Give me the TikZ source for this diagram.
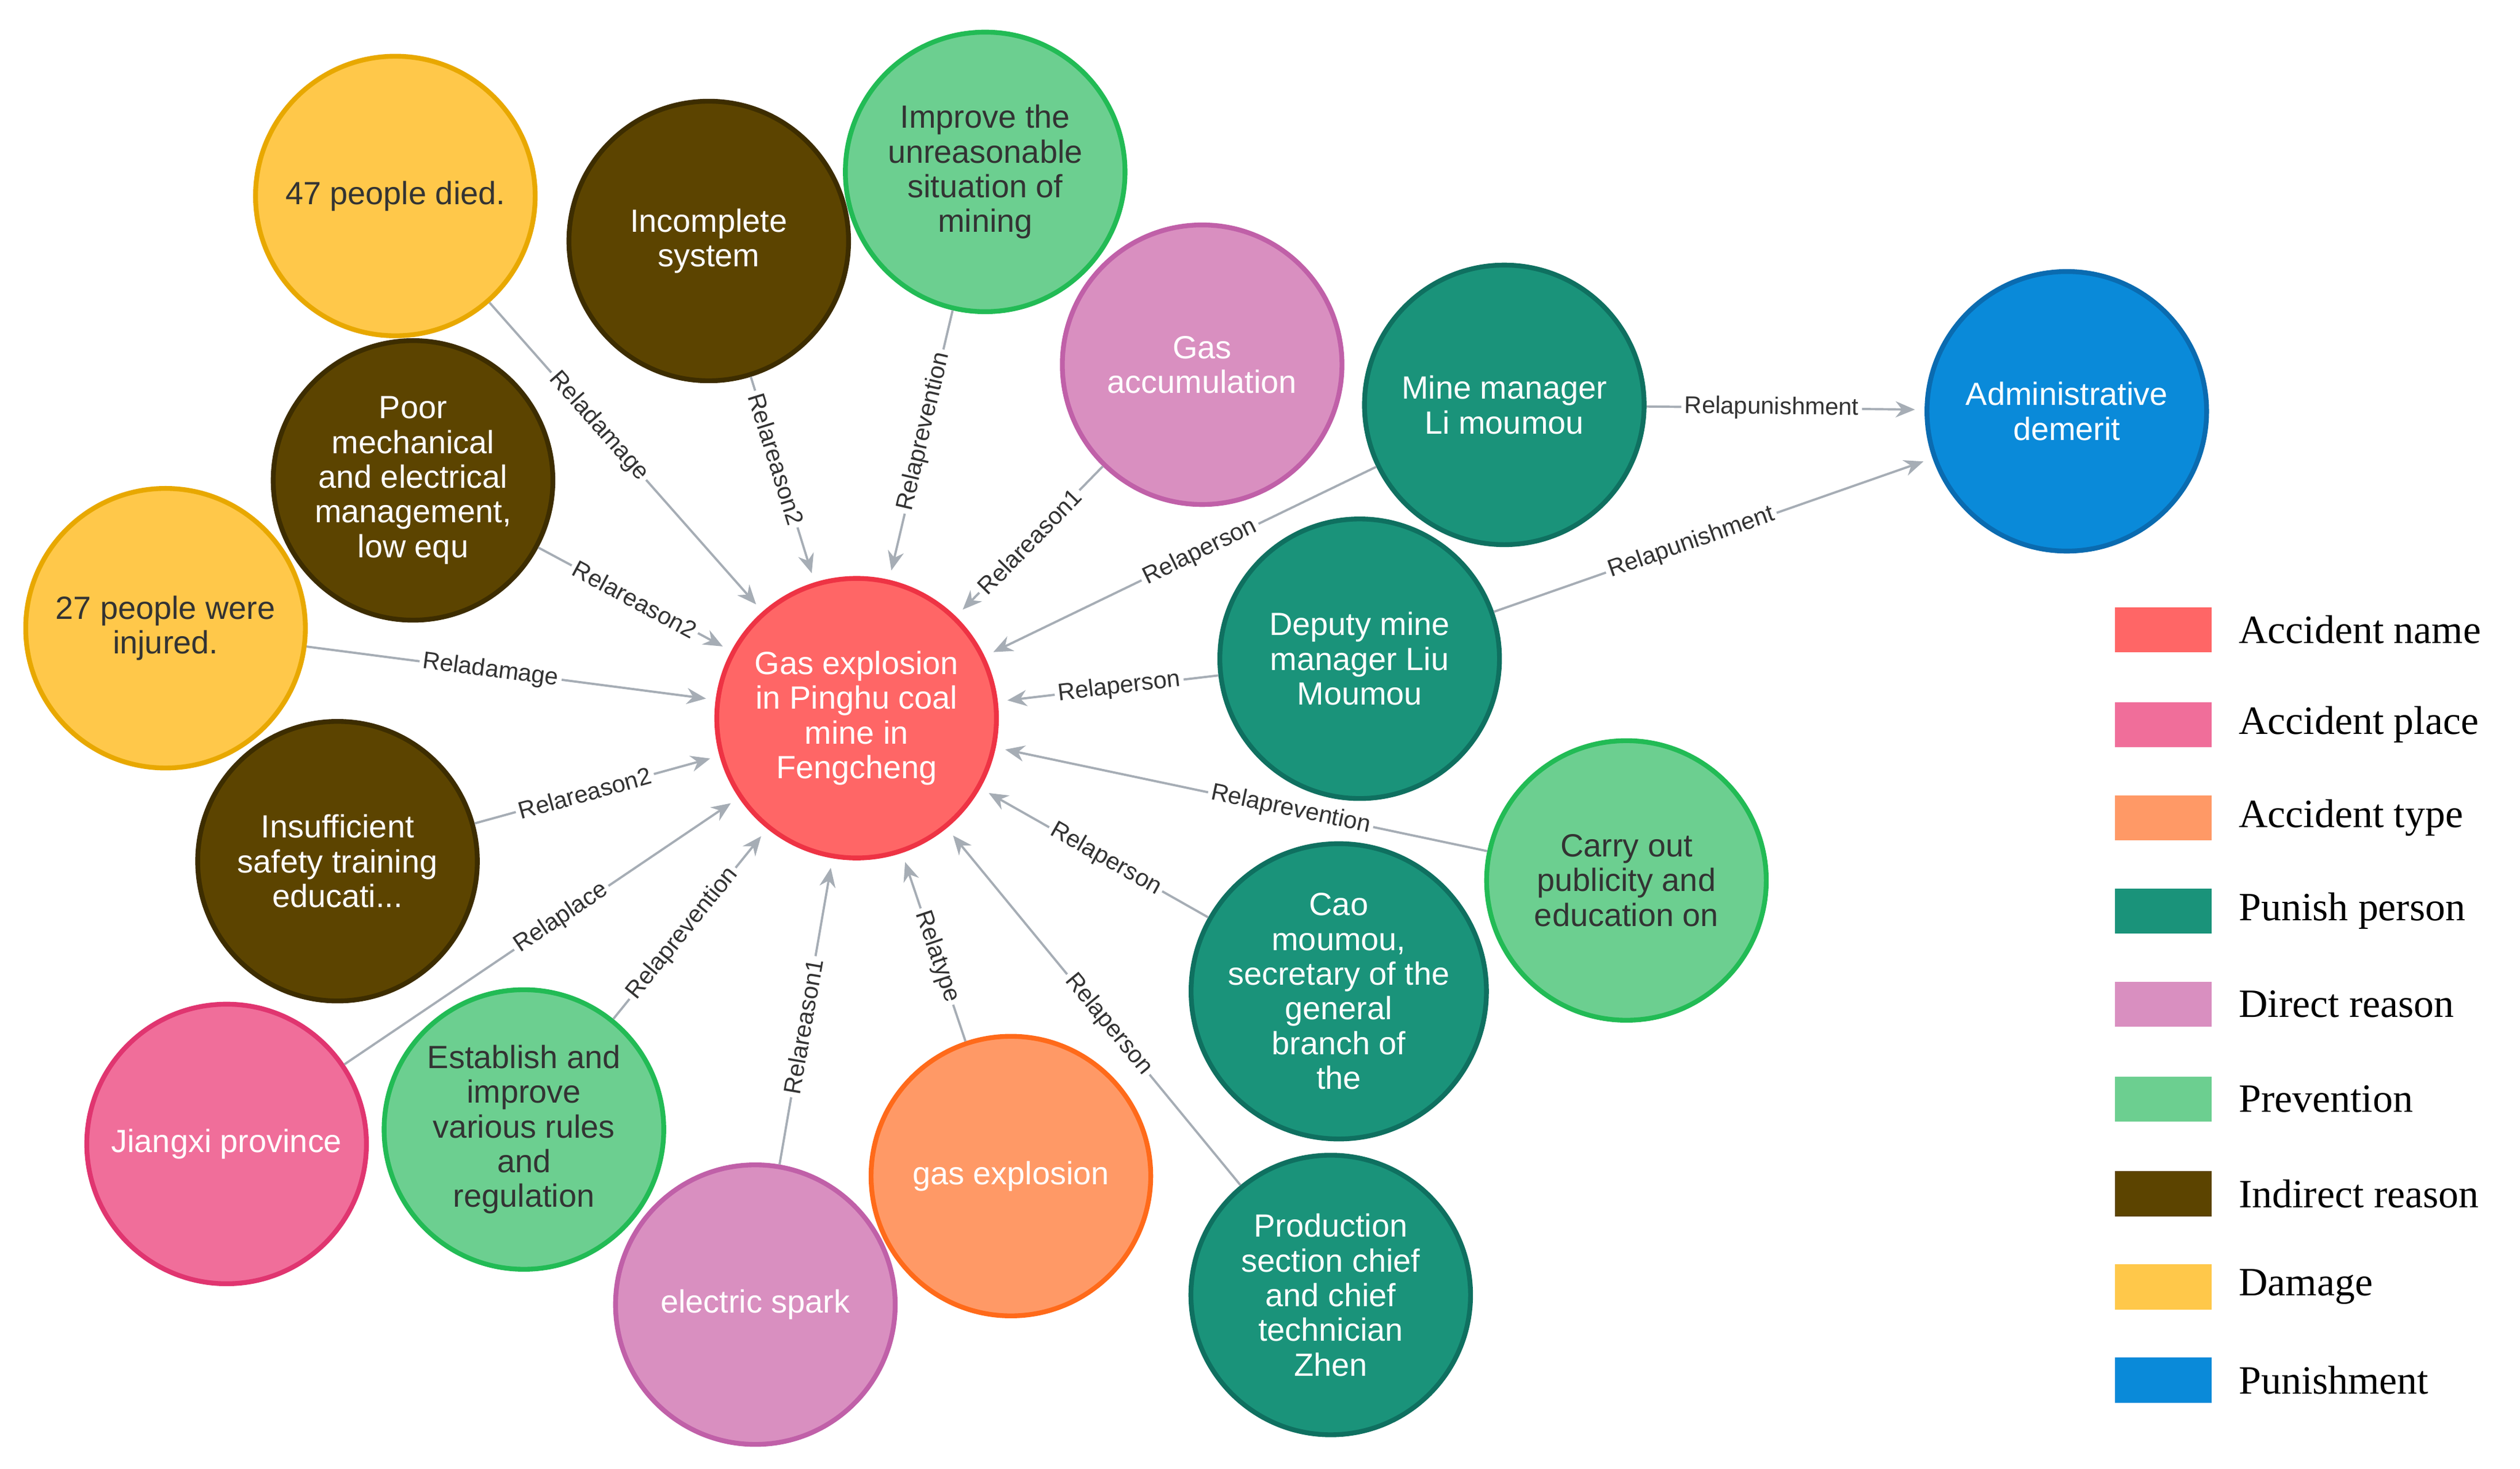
\documentclass[tikz,border=0pt]{standalone}
\usepackage{fontspec}
\setmainfont{Liberation Serif}
\newfontfamily\nodefont{Liberation Sans}
\usetikzlibrary{arrows.meta}
\definecolor{cred}{HTML}{FF6666}\definecolor{bred}{HTML}{EE3344}
\definecolor{cyel}{HTML}{FFC84A}\definecolor{byel}{HTML}{E8A800}
\definecolor{cbro}{HTML}{5C4400}\definecolor{bbro}{HTML}{3D2D00}
\definecolor{cgre}{HTML}{6CCF90}\definecolor{bgre}{HTML}{22BB55}
\definecolor{cpur}{HTML}{D98FC0}\definecolor{bpur}{HTML}{C060A8}
\definecolor{ctea}{HTML}{1A937A}\definecolor{btea}{HTML}{0F7060}
\definecolor{cblu}{HTML}{0A8AD9}\definecolor{bblu}{HTML}{0A6BB0}
\definecolor{cpin}{HTML}{F06E9A}\definecolor{bpin}{HTML}{E03570}
\definecolor{cora}{HTML}{FF9966}\definecolor{bora}{HTML}{FF6A1A}
\definecolor{edge}{HTML}{A6ADB5}\definecolor{dtext}{HTML}{333333}
\tikzset{
 ent/.style={circle,minimum size=87pt,inner sep=0pt,line width=1.5pt,align=center,font=\nodefont\fontsize{10}{10.8}\selectfont},
 red/.style={ent,fill=cred,draw=bred,text=white},
 yel/.style={ent,fill=cyel,draw=byel,text=dtext},
 bro/.style={ent,fill=cbro,draw=bbro,text=white},
 gre/.style={ent,fill=cgre,draw=bgre,text=dtext},
 pur/.style={ent,fill=cpur,draw=bpur,text=white},
 tea/.style={ent,fill=ctea,draw=btea,text=white},
 blu/.style={ent,fill=cblu,draw=bblu,text=white},
 pin/.style={ent,fill=cpin,draw=bpin,text=white},
 ora/.style={ent,fill=cora,draw=bora,text=white},
 rel/.style={draw=edge,line width=0.7pt,-{Stealth[length=6pt,width=5pt]},shorten >=3pt},
 lab/.style={sloped,fill=white,inner sep=1pt,font=\nodefont\fontsize{7.5}{8}\selectfont,text=dtext},
 leg/.style={minimum width=30pt,minimum height=14pt,inner sep=0pt},
 legt/.style={anchor=west,font=\fontsize{12.5}{13}\selectfont,text=black},
}
\begin{document}
\begin{tikzpicture}[x=0.5pt,y=-0.5pt]
\useasboundingbox (0,0) rectangle (1568,914);
\node[red] (c) at (533,447) {Gas explosion\\in Pinghu coal\\mine in\\Fengcheng};
\node[yel] (d47) at (246,122) {47 people died.};
\node[bro] (inc) at (441,150) {Incomplete\\system};
\node[gre] (imp) at (613,107) {Improve the\\unreasonable\\situation of\\mining};
\node[pur] (gas) at (748,227) {Gas\\accumulation};
\node[tea] (mm) at (936,252) {Mine manager\\Li moumou};
\node[blu] (adm) at (1286,256) {Administrative\\demerit};
\node[bro] (poor) at (257,299) {Poor\\mechanical\\and electrical\\management,\\low equ};
\node[yel] (d27) at (103,391) {27 people were\\injured.};
\node[tea] (dep) at (846,410) {Deputy mine\\manager Liu\\Moumou};
\node[bro] (ins) at (210,536) {Insufficient\\safety training\\educati...};
\node[gre] (car) at (1012,548) {Carry out\\publicity and\\education on};
\node[tea] (cao) at (833,617) {Cao\\moumou,\\secretary of the\\general\\branch of\\the};
\node[pin] (jx) at (141,712) {Jiangxi province};
\node[gre] (est) at (326,703) {Establish and\\improve\\various rules\\and\\regulation};
\node[pur] (es) at (470,812) {electric spark};
\node[ora] (ge) at (629,732) {gas explosion};
\node[tea] (pro) at (828,806) {Production\\section chief\\and chief\\technician\\Zhen};
\draw[rel] (d47) -- node[lab,pos=0.4]{Reladamage} (c);
\draw[rel] (inc) -- node[lab,pos=0.4]{Relareason2} (c);
\draw[rel] (imp) -- node[lab,pos=0.45]{Relaprevention} (c);
\draw[rel] (gas) -- node[lab,pos=0.5]{Relareason1} (c);
\draw[rel] (mm) -- node[lab,pos=0.45]{Relaperson} (c);
\draw[rel] (poor) -- node[lab,pos=0.5]{Relareason2} (c);
\draw[rel] (d27) -- node[lab,pos=0.45]{Reladamage} (c);
\draw[rel] (dep) -- node[lab,pos=0.45]{Relaperson} (c);
\draw[rel] (ins) -- node[lab,pos=0.45]{Relareason2} (c);
\draw[rel] (car) -- node[lab,pos=0.4]{Relaprevention} (c);
\draw[rel] (cao) -- node[lab,pos=0.45]{Relaperson} (c);
\draw[rel] (jx) -- node[lab,pos=0.55]{Relaplace} (c);
\draw[rel] (est) -- node[lab,pos=0.45]{Relaprevention} (c);
\draw[rel] (es) -- node[lab,pos=0.45]{Relareason1} (c);
\draw[rel] (ge) -- node[lab,pos=0.45]{Relatype} (c);
\draw[rel] (pro) -- node[lab,pos=0.45]{Relaperson} (c);
\draw[rel] (mm) -- node[lab,pos=0.45]{Relapunishment} (adm);
\draw[rel] (dep) -- node[lab,pos=0.45]{Relapunishment} (adm);
\foreach \c/\t/\y [count=\i] in {cred/Accident name/392,cpin/Accident place/451,cora/Accident type/509,ctea/Punish person/567,cpur/Direct reason/625,cgre/Prevention/684,cbro/Indirect reason/743,cyel/Damage/801,cblu/Punishment/859}{
 \node[leg,fill=\c] (l\i) at (1346,\y) {};
 \node[legt] (t\i) at (1386,\y) {\t};
}
\end{tikzpicture}
\end{document}
